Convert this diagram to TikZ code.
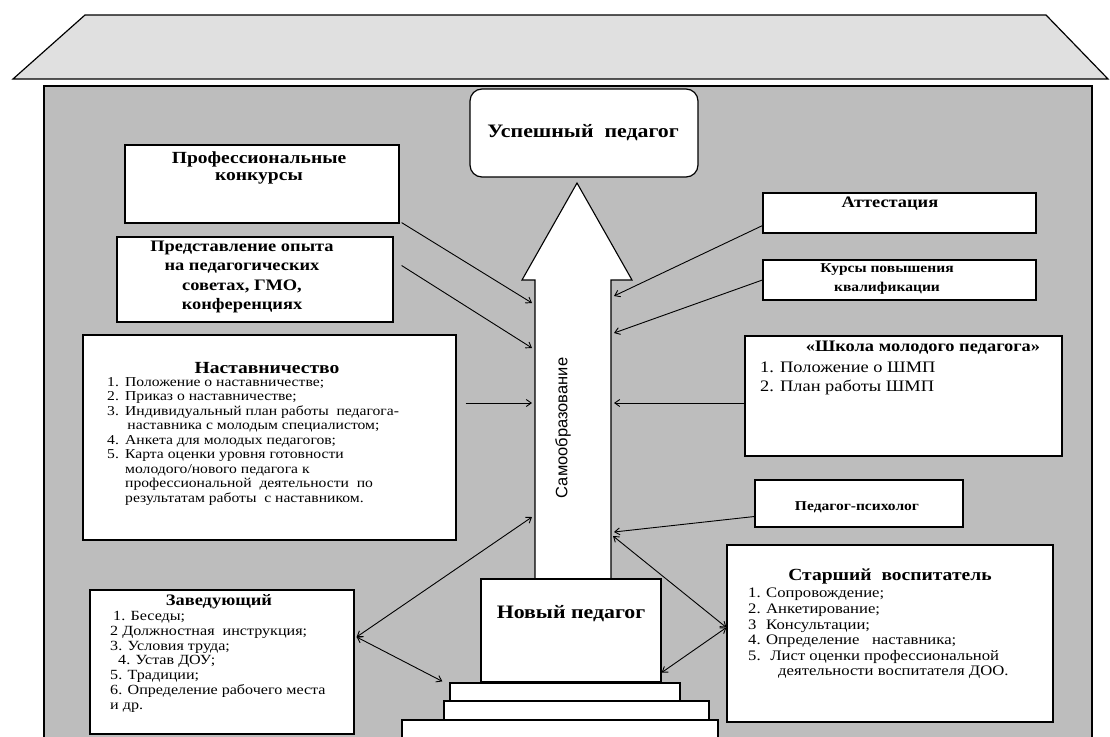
\documentclass[tikz,border=0pt]{standalone}
\usepackage{fontspec}
\setmainfont{Liberation Serif}[FakeStretch=1.15]
\newfontfamily\colfont{Liberation Sans}
\usetikzlibrary{arrows.meta,fit,calc}
\definecolor{bodygray}{HTML}{BDBDBD}
\definecolor{roofgray}{HTML}{E0E0E0}
\tikzset{
  box/.style={draw=black, fill=white, line width=1.2pt, inner sep=0pt},
  ttl/.style={font=\bfseries\fontsize{17}{19}\selectfont, align=center, inner sep=0pt},
  lst/.style={font=\fontsize{13.6}{14.5}\selectfont, align=left, anchor=north west, inner sep=0pt},
  tip/.tip={Straight Barb[length=5pt,width=7pt]},
  con/.style={line width=0.9pt, -tip},
  dcon/.style={line width=0.9pt, tip-tip},
}
\newcommand{\nb}[1]{\makebox[18pt][l]{#1}}
\begin{document}
\begin{tikzpicture}[x=1pt,y=-1pt]
\useasboundingbox (0,0) rectangle (1110,736);
\clip (0,0) rectangle (1110,736);
% body and roof
\filldraw[fill=bodygray, draw=black, line width=1.4pt] (44,86) rectangle (1092,760);
\filldraw[fill=roofgray, draw=black, line width=1.2pt] (85,15) -- (1046,15) -- (1108,79) -- (13,79) -- cycle;
% central arrow
\filldraw[fill=white, draw=black, line width=1.1pt] (577,183) -- (632,280) -- (611,280) -- (611,579) -- (535,579) -- (535,280) -- (522,280) -- cycle;
\node[rotate=90, font=\colfont\fontsize{16.5}{18}\selectfont, inner sep=0pt] (selfed) at (563,428) {Самообразование};
% top box
\node[box, rounded corners=12pt, fit={(470,89)(698,177)}] (succ) {};
\node[ttl, font=\bfseries\fontsize{19}{21}\selectfont] (succt) at (583,133) {Успешный\ \ педагог};
% steps and new teacher
\node[box, fit={(402,720)(718,760)}] (step3) {};
\node[box, fit={(444,701)(709,720)}] (step2) {};
\node[box, fit={(450,683)(680,701)}] (step1) {};
\node[box, fit={(481,579)(661,682)}] (new) {};
\node[ttl, font=\bfseries\fontsize{19}{21}\selectfont] (newt) at (571,614) {Новый педагог};
% left boxes
\node[box, fit={(125,145)(399,223)}] (prof) {};
\node[ttl] (proft) at (259,168) {Профессиональные\\[-2pt]конкурсы};
\node[box, fit={(117,237)(393,322)}] (pred) {};
\node[ttl, font=\bfseries\fontsize{16}{19.5}\selectfont] (predt) at (242,277) {Представление опыта\\на педагогических\\советах, ГМО,\\конференциях};
\node[box, fit={(83,335)(456,540)}] (nast) {};
\node[ttl] (nastt) at (267,368) {Наставничество};
\node[lst] (nastl) at (107,377) {\nb{1.}Положение о наставничестве;\\
\nb{2.}Приказ о наставничестве;\\
\nb{3.}Индивидуальный план работы\ \ педагога-\\
\nb{}\,наставника с молодым специалистом;\\
\nb{4.}Анкета для молодых педагогов;\\
\nb{5.}Карта оценки уровня готовности\\
\nb{}молодого/нового педагога к\\
\nb{}профессиональной\ \ деятельности\ \ по\\
\nb{}результатам работы\ \ с наставником.};
\node[box, fit={(90,590)(354,734)}] (zav) {};
\node[ttl, font=\bfseries\fontsize{16}{18}\selectfont] (zavt) at (219,602) {Заведующий};
\node[lst, font=\fontsize{14}{14.8}\selectfont] (zavl) at (110,611) {\hspace*{3pt}1. Беседы;\\
2 Должностная\ \ инструкция;\\
3. Условия труда;\\
\hspace*{8pt}4. Устав ДОУ;\\
5. Традиции;\\
6. Определение рабочего места\\
и др.};
% right boxes
\node[box, fit={(763,193)(1036,233)}] (att) {};
\node[ttl, font=\bfseries\fontsize{16}{18}\selectfont] (attt) at (890,204) {Аттестация};
\node[box, fit={(763,260)(1036,300)}] (kurs) {};
\node[ttl, font=\bfseries\fontsize{13.5}{19}\selectfont] (kurst) at (887,279) {Курсы повышения\\квалификации};
\node[box, fit={(745,336)(1062,456)}] (shmp) {};
\node[ttl, font=\bfseries\fontsize{16}{18}\selectfont] (shmpt) at (923,348) {«Школа молодого педагога»};
\node[lst, font=\fontsize{16}{18.5}\selectfont] (shmpl) at (760,362) {1. Положение о ШМП\\2. План работы ШМП};
\node[box, fit={(755,480)(963,527)}] (psy) {};
\node[ttl, font=\bfseries\fontsize{13.5}{16}\selectfont] (psyt) at (857,507) {Педагог-психолог};
\node[box, fit={(727,545)(1053,722)}] (star) {};
\node[ttl] (start) at (890,576) {Старший\ \ воспитатель};
\node[lst, font=\fontsize{14.5}{15.6}\selectfont] (starl) at (748,588) {\nb{1.}Сопровождение;\\
\nb{2.}Анкетирование;\\
\nb{3}Консультации;\\
\nb{4.}Определение\ \ \ наставника;\\
\nb{5.}\ Лист оценки профессиональной\\
\hspace*{30pt}деятельности воспитателя ДОО.};
% connection points on the column
\coordinate (cl1) at (532,303);
\coordinate (cl2) at (532,348);
\coordinate (cl3) at (532,403);
\coordinate (cl4) at (532,517);
\coordinate (cr1) at (614,296);
\coordinate (cr2) at (614,333);
\coordinate (cr3) at (614,403);
\coordinate (cr4) at (614,532);
\coordinate (cr5) at (613,536);
% connectors
\draw[con] ([xshift=2pt,yshift=1pt]prof.south east) -- (cl1);
\draw[con] ([xshift=8pt,yshift=14pt]pred.east) -- (cl2);
\draw[con] ($(nast.east |- cl3)+(9,0)$) -- (cl3);
\draw[dcon] ([xshift=2pt,yshift=25pt]zav.east) -- (cl4);
\draw[dcon] ([xshift=2pt,yshift=25pt]zav.east) -- ([xshift=-7pt,yshift=1pt]step1.north west);
\draw[con] ([yshift=8pt]att.south west) -- (cr1);
\draw[con] (kurs.west) -- (cr2);
\draw[con] (shmp.west |- cr3) -- (cr3);
\draw[con] ([yshift=-13pt]psy.west) -- (cr4);
\draw[dcon] ([yshift=6pt]star.west) -- (cr5);
\draw[dcon] ([yshift=6pt]star.west) -- ([yshift=10pt]new.south east);
\end{tikzpicture}
\end{document}
